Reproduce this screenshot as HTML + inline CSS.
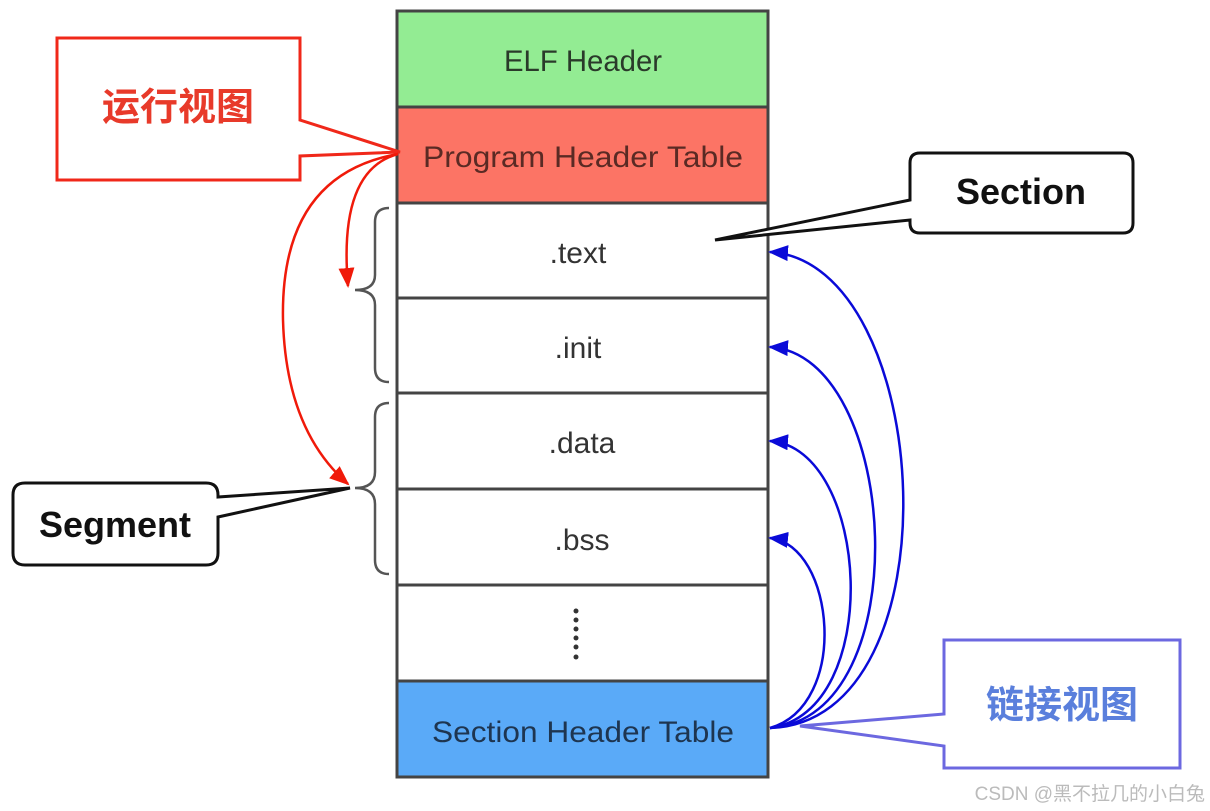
<!DOCTYPE html>
<html><head><meta charset="utf-8"><style>
html,body{margin:0;padding:0;background:#fff;}
svg{display:block;}
text{font-family:"Liberation Sans","Noto Sans CJK SC",sans-serif;}
</style></head><body>
<svg width="1210" height="811" viewBox="0 0 1210 811" xmlns="http://www.w3.org/2000/svg">
<defs>
<marker id="ar" markerWidth="20" markerHeight="16" refX="18" refY="8" orient="auto" markerUnits="userSpaceOnUse" viewBox="0 0 20 16"><path d="M0,0 L20,8 L0,16 Z" fill="#f01a0a"/></marker>
<marker id="ab" markerWidth="20" markerHeight="16" refX="18" refY="8" orient="auto" markerUnits="userSpaceOnUse" viewBox="0 0 20 16"><path d="M0,0 L20,8 L0,16 Z" fill="#0a0ad8"/></marker>
</defs>
<g stroke="#444" stroke-width="3">
<rect x="397" y="11" width="371" height="96" fill="#93ec93"/>
<rect x="397" y="107" width="371" height="96" fill="#fc7465"/>
<rect x="397" y="203" width="371" height="95" fill="#fff"/>
<rect x="397" y="298" width="371" height="95" fill="#fff"/>
<rect x="397" y="393" width="371" height="96" fill="#fff"/>
<rect x="397" y="489" width="371" height="96" fill="#fff"/>
<rect x="397" y="585" width="371" height="96" fill="#fff"/>
<rect x="397" y="681" width="371" height="96" fill="#5aaaf8"/>
</g>
<g font-size="30" text-anchor="middle" fill="#333">
<text x="583" y="71" fill="#2a3a2a" textLength="158" lengthAdjust="spacingAndGlyphs">ELF Header</text>
<text x="583" y="167" fill="#5a2a24" textLength="320" lengthAdjust="spacingAndGlyphs">Program Header Table</text>
<text x="578" y="263">.text</text>
<text x="578" y="358">.init</text>
<text x="582" y="453">.data</text>
<text x="582" y="550">.bss</text>
<text x="583" y="742" fill="#1e3550" textLength="302" lengthAdjust="spacingAndGlyphs">Section Header Table</text>
</g>
<g fill="#333">
<circle cx="576" cy="611" r="2.5"/><circle cx="576" cy="620" r="2.5"/><circle cx="576" cy="629" r="2.5"/><circle cx="576" cy="638" r="2.5"/><circle cx="576" cy="647" r="2.5"/><circle cx="576" cy="657" r="2.5"/>
</g>
<g fill="none" stroke="#555" stroke-width="2.5">
<path d="M389,208 Q375,208 375,222 L375,275 Q375,290 355,290 Q375,290 375,305 L375,368 Q375,382 389,382"/>
<path d="M389,403 Q375,403 375,417 L375,472 Q375,488 355,488 Q375,488 375,504 L375,560 Q375,574 389,574"/>
</g>
<path d="M57,38 L300,38 L300,120 L400,152 L300,156 L300,180 L57,180 Z" fill="#fff" stroke="#f0281a" stroke-width="3"/>
<text x="178" y="120" font-size="38" font-weight="bold" fill="#e83a2a" text-anchor="middle">运行视图</text>
<path d="M398,154 Q338,170 348,286" fill="none" stroke="#f01a0a" stroke-width="2.5" marker-end="url(#ar)"/>
<path d="M398,154 Q280,175 283,320 Q286,430 348,484" fill="none" stroke="#f01a0a" stroke-width="2.5" marker-end="url(#ar)"/>
<path d="M920,153 L1123,153 Q1133,153 1133,163 L1133,223 Q1133,233 1123,233 L920,233 Q910,233 910,223 L910,220 L715,240 L910,200 L910,163 Q910,153 920,153 Z" fill="#fff" stroke="#111" stroke-width="3"/>
<text x="1021" y="204" font-size="36" font-weight="bold" fill="#111" text-anchor="middle">Section</text>
<path d="M25,483 L206,483 Q218,483 218,495 L218,497 L350,488 L218,517 L218,553 Q218,565 206,565 L25,565 Q13,565 13,553 L13,495 Q13,483 25,483 Z" fill="#fff" stroke="#111" stroke-width="3"/>
<text x="115" y="537" font-size="36" font-weight="bold" fill="#111" text-anchor="middle">Segment</text>
<path d="M944,640 L1180,640 L1180,768 L944,768 L944,746 L800,726 L944,714 Z" fill="#fff" stroke="#6c68e0" stroke-width="3"/>
<text x="1062" y="718" font-size="38" font-weight="bold" fill="#5a7fdc" text-anchor="middle">链接视图</text>
<g fill="none" stroke="#0a0ad8" stroke-width="2.5">
<path d="M770,728 C960,722 935,262 770,252" marker-end="url(#ab)"/>
<path d="M770,728 C920,718 900,355 770,347" marker-end="url(#ab)"/>
<path d="M770,728 C885,712 870,448 770,441" marker-end="url(#ab)"/>
<path d="M770,728 C850,705 835,545 770,538" marker-end="url(#ab)"/>
</g>
<text x="1205" y="800" font-size="19" fill="#bbb" text-anchor="end">CSDN @黑不拉几的小白兔</text>
</svg>
</body></html>
